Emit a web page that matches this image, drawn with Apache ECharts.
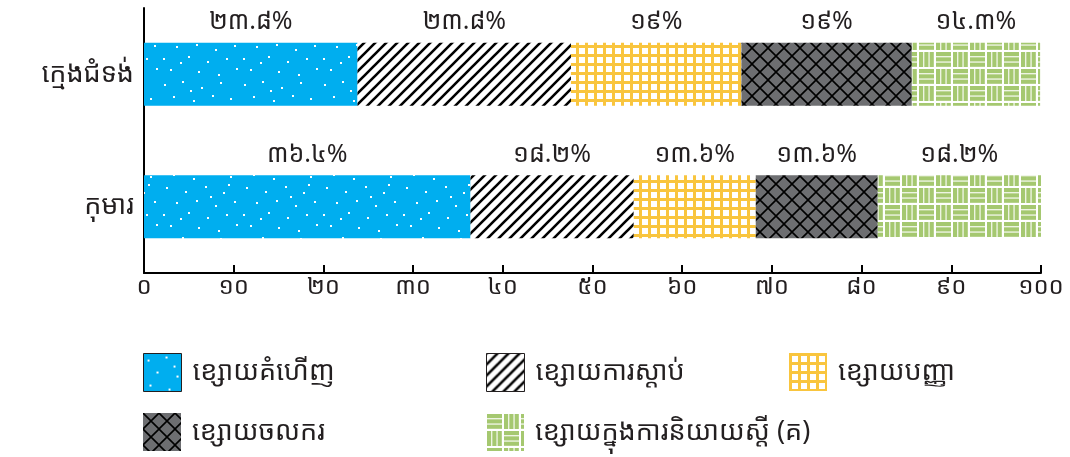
<!DOCTYPE html>
<html>
<head>
<meta charset="utf-8">
<script src="https://cdn.jsdelivr.net/npm/echarts@6/dist/echarts.min.js"></script>
<style>
html,body{margin:0;padding:0;background:#fff;}
#chart{width:1070px;height:457px;}
</style>
</head>
<body>
<div id="chart"></div>
<script>
// ---- data ----
const categories = ['កុមារ', 'ក្មេងជំទង់'];
const seriesNames = ['ខ្សោយគំហើញ', 'ខ្សោយការស្តាប់', 'ខ្សោយបញ្ញា', 'ខ្សោយចលករ', 'ខ្សោយក្នុងការនិយាយស្តី (គ)'];
const visionValues = [36.4, 23.8];
const hearingValues = [18.2, 23.8];
const intellectValues = [13.6, 19];
const motorValues = [13.6, 19];
const speechValues = [18.2, 14.3];
const xTicks = [0, 10, 20, 30, 40, 50, 60, 70, 80, 90, 100];

const khmerDigits = ['០','១','២','៣','៤','៥','៦','៧','៨','៩'];
function toKhmer(v) {
  return String(v).replace(/[0-9]/g, d => khmerDigits[+d]);
}

// ---- patterns ----
function mk(w, h, draw) {
  const c = document.createElement('canvas');
  c.width = w; c.height = h;
  const ctx = c.getContext('2d');
  draw(ctx, w, h);
  return { image: c, repeat: 'repeat' };
}
const dotPts = [[4,6],[22,3],[41,9],[60,4],[13,18],[33,22],[52,17],[70,20],[6,31],[25,35],[45,30],[63,36],[16,46],[36,44],[55,49],[74,45],[3,58],[28,56],[47,61],[66,58],[10,69],[38,71],[58,74],[76,68],[30,12],[68,28],[20,62],[50,40]];
const patVision = mk(80, 78, (ctx, w, h) => {
  ctx.fillStyle = '#00AEEF'; ctx.fillRect(0,0,w,h);
  ctx.fillStyle = '#ffffff';
  dotPts.forEach(p => ctx.fillRect(p[0], p[1], 2, 2));
});
const patHearing = mk(11, 11, (ctx, w, h) => {
  ctx.fillStyle = '#fff'; ctx.fillRect(0,0,w,h);
  ctx.strokeStyle = '#000'; ctx.lineWidth = 2.6;
  ctx.beginPath();
  ctx.moveTo(-2, h+2); ctx.lineTo(w+2, -2);
  ctx.moveTo(-3, 3); ctx.lineTo(3, -3);
  ctx.moveTo(w-3, h+3); ctx.lineTo(w+3, h-3);
  ctx.stroke();
});
const patIntellect = mk(9, 9, (ctx, w, h) => {
  ctx.fillStyle = '#fff'; ctx.fillRect(0,0,w,h);
  ctx.fillStyle = '#F9C53E';
  ctx.fillRect(0,0,w,3);
  ctx.fillRect(0,0,3,h);
});
const patMotor = mk(16, 16, (ctx, w, h) => {
  ctx.fillStyle = '#6D6E71'; ctx.fillRect(0,0,w,h);
  ctx.strokeStyle = '#000'; ctx.lineWidth = 1.6;
  ctx.beginPath();
  ctx.moveTo(0,0); ctx.lineTo(w,h);
  ctx.moveTo(w,0); ctx.lineTo(0,h);
  ctx.stroke();
});
const patSpeech = mk(34, 34, (ctx, w, h) => {
  ctx.fillStyle = '#fff'; ctx.fillRect(0,0,w,h);
  ctx.fillStyle = '#A5C870';
  const b = 17;
  for (let bx = 0; bx < 2; bx++) for (let by = 0; by < 2; by++) {
    const x0 = bx*b + 1, y0 = by*b + 1;
    const horiz = (bx + by) % 2 === 0;
    for (let i = 0; i < 3; i++) {
      if (horiz) ctx.fillRect(x0, y0 + i*5.3, 15, 4.2);
      else ctx.fillRect(x0 + i*5.3, y0, 4.2, 15);
    }
  }
});
const patterns = [patVision, patHearing, patIntellect, patMotor, patSpeech];
const valuesList = [visionValues, hearingValues, intellectValues, motorValues, speechValues];

const FONT = "'Noto Sans Khmer', 'Khmer OS', 'Noto Sans', 'DejaVu Sans', sans-serif";
const TXT = '#231F20';

const series = seriesNames.map((name, i) => ({
  name: name,
  type: 'bar',
  stack: 'total',
  barWidth: 63,
  data: valuesList[i],
  itemStyle: { color: patterns[i] },
  label: {
    show: true,
    position: 'top',
    distance: 8,
    color: TXT,
    fontSize: 25,
    fontFamily: FONT,
    formatter: p => toKhmer(p.value) + '%'
  },
  emphasis: { disabled: true }
}));

const legendPos = [[143, 353], [486, 353], [789, 353], [143, 413], [486, 413]];
const legends = seriesNames.map((name, i) => ({
  left: legendPos[i][0],
  top: legendPos[i][1],
  padding: 0,
  icon: 'rect',
  itemWidth: 38,
  itemHeight: 38,
  itemGap: 0,
  selectedMode: false,
  data: [ i < 2 ? { name: name, itemStyle: { borderColor: '#231F20', borderWidth: 1 } } : { name: name } ],
  textStyle: { fontSize: 27, color: TXT, fontFamily: FONT, padding: [0,0,0,6] }
}));

const chart = echarts.init(document.getElementById('chart'), null, { renderer: 'canvas' });
chart.setOption({
  animation: false,
  backgroundColor: '#ffffff',
  grid: { left: 144, right: 29, top: 8, bottom: 184, containLabel: false },
  xAxis: {
    type: 'value',
    min: 0, max: 100, interval: 10,
    axisLine: { show: true, lineStyle: { color: '#000', width: 2 } },
    axisTick: { show: true, inside: true, length: 8, lineStyle: { color: '#000', width: 2 } },
    splitLine: { show: false },
    axisLabel: {
      color: TXT, fontSize: 24, fontFamily: FONT, margin: 2,
      formatter: v => xTicks.indexOf(v) >= 0 ? toKhmer(v) : ''
    }
  },
  yAxis: {
    type: 'category',
    data: categories,
    axisLine: { show: true, lineStyle: { color: '#000', width: 2 } },
    axisTick: { show: false },
    axisLabel: { color: TXT, fontSize: 27, fontFamily: FONT, margin: 10 }
  },
  legend: legends,
  series: series
});
</script>
</body>
</html>
